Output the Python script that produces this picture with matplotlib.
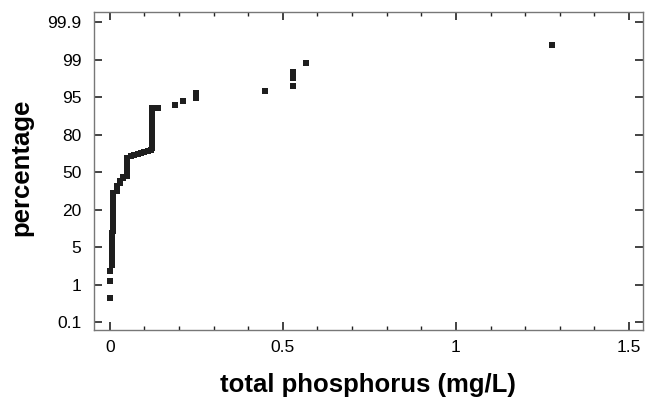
import numpy as np
import matplotlib
matplotlib.use("Agg")
import matplotlib.pyplot as plt
from matplotlib.ticker import MultipleLocator

plt.rcParams['font.family'] = ['Liberation Sans', 'DejaVu Sans']

# probability axis: labels are evenly spaced
prob_ticks = [0.1, 1, 5, 20, 50, 80, 95, 99, 99.9]
prob_labels = ["0.1", "1", "5", "20", "50", "80", "95", "99", "99.9"]

# total phosphorus (mg/L) and cumulative percentage
tp = [0.0, 0.0, 0.0,
      0.005, 0.005, 0.005, 0.005, 0.006, 0.006, 0.006, 0.007, 0.007, 0.007,
      0.008, 0.008, 0.008, 0.008, 0.009, 0.009, 0.009, 0.01, 0.01,
      0.01, 0.01, 0.01, 0.01, 0.01, 0.01, 0.01,
      0.02, 0.02, 0.02, 0.029, 0.029, 0.038, 0.038,
      0.049, 0.049, 0.049, 0.049, 0.049, 0.049, 0.049, 0.049,
      0.06, 0.07, 0.08, 0.09, 0.10, 0.11, 0.12,
      0.121, 0.121, 0.121, 0.121, 0.121, 0.121, 0.121, 0.121, 0.121, 0.121, 0.121,
      0.14, 0.188, 0.21, 0.249, 0.249, 0.449, 0.528, 0.528, 0.528, 0.568, 1.277]
pct = [0.67, 1.4, 2.4,
       3.1, 3.6, 4.2, 4.8, 5.5, 6.5, 7.5, 8.5, 9.5, 10.5,
       11.5, 12.5, 13.5, 14.5, 15.5, 16.5, 17.5, 18.5, 19.5,
       21, 23, 25, 27, 29, 31, 33,
       35, 37, 39, 41, 43, 45, 46,
       47, 49, 51, 53, 55, 57, 59, 61,
       63, 64, 64.5, 65.5, 66, 67, 67.5,
       69, 72, 75, 78, 80, 81.5, 83, 85, 87, 89, 90.5,
       90.7, 92, 93.6, 94.8, 95.4, 95.64, 96.2, 97.0, 97.7, 98.66, 99.35]

tick_pos = np.arange(len(prob_ticks))
ypos = np.interp(pct, prob_ticks, tick_pos)

fig = plt.figure(figsize=(6.52, 3.98), dpi=100)
ax = fig.add_axes([0.144, 0.171, 0.842, 0.799])

ax.plot(tp, ypos, 's', color='#1e1e1e', ms=5, mew=0)

ax.set_xlim(-0.046, 1.54)
ax.set_ylim(-0.21, 8.27)
ax.set_yticks(tick_pos)
ax.set_yticklabels(prob_labels)
ax.set_xticks([0, 0.5, 1, 1.5])
ax.set_xticklabels(["0", "0.5", "1", "1.5"])
ax.xaxis.set_minor_locator(MultipleLocator(0.1))

ax.tick_params(which='both', direction='in', top=True, right=True,
               labelsize=12.5, color='#222222')
ax.tick_params(axis='y', pad=9)
ax.tick_params(axis='x', pad=7)
ax.tick_params(which='major', length=6, width=1.2)
ax.tick_params(which='minor', length=3, width=1)
for s in ax.spines.values():
    s.set_color('#777777')
    s.set_linewidth(1)

ax.set_xlabel("total phosphorus (mg/L)", fontsize=18.5, fontweight='bold')
ax.xaxis.set_label_coords(0.5, -0.135)
ax.set_ylabel("percentage", fontsize=18.5, fontweight='bold')
ax.yaxis.set_label_coords(-0.111, 0.51)

fig.savefig("out.png", dpi=100)
